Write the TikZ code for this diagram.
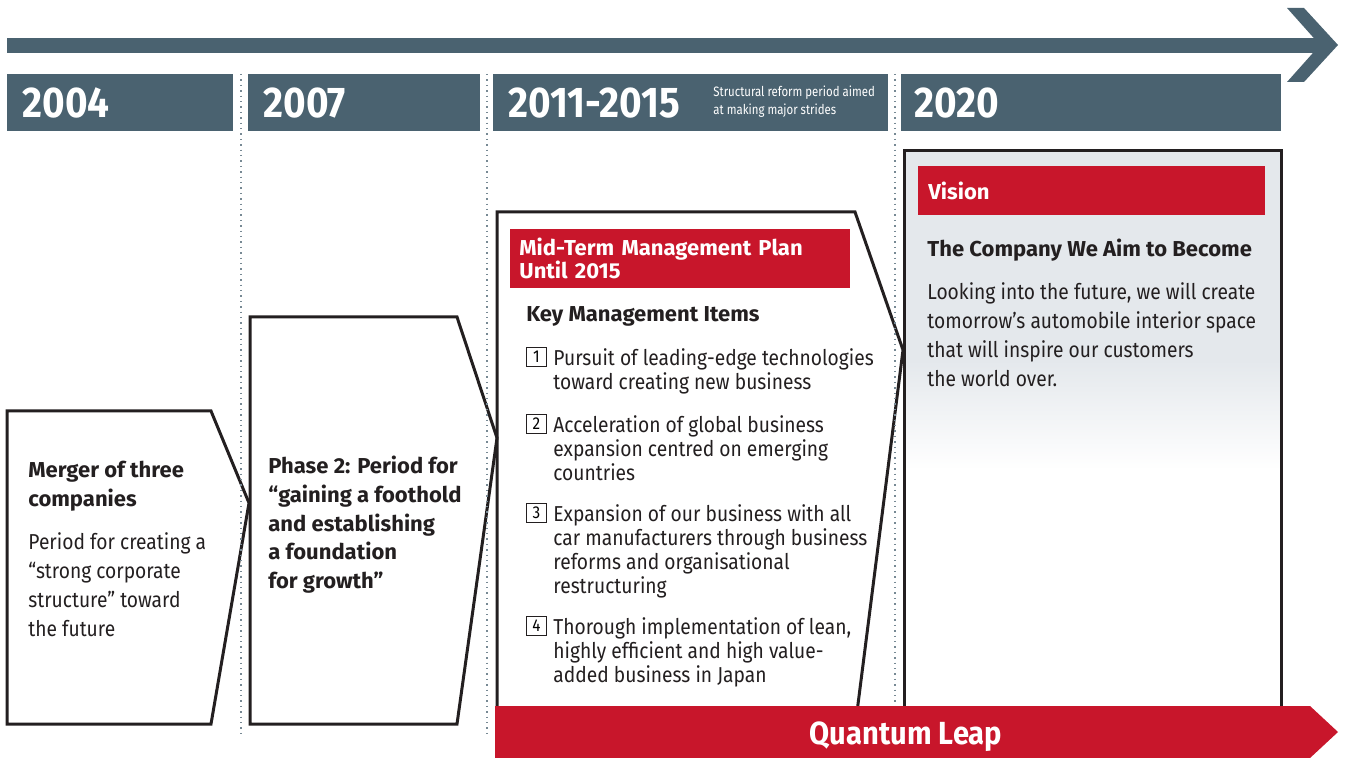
\documentclass[tikz,border=0pt]{standalone}
\usepackage{fontspec}
\setmainfont{Fira Sans}[UprightFeatures={FakeStretch=0.89},BoldFeatures={FakeStretch=1.02}]
\newfontfamily\yearfamily{Fira Sans}[FakeStretch=0.9]
\newfontfamily\notefamily{Fira Sans}[FakeStretch=0.84]
\newfontfamily\leapfamily{Fira Sans}[FakeStretch=0.91]
\usetikzlibrary{positioning}

\definecolor{slate}{RGB}{74,98,112}
\definecolor{leapred}{RGB}{200,22,43}
\definecolor{mist}{RGB}{228,232,236}
\definecolor{ink}{RGB}{35,31,32}

% fonts (1px of the layout = 0.5pt)
\newcommand{\yearfont}{\yearfamily\bfseries\fontsize{21.5}{21.5}\selectfont}
\newcommand{\notefont}{\notefamily\fontsize{6.8}{9}\selectfont}
\newcommand{\headfont}{\bfseries\fontsize{10.8}{14.3}\selectfont}
\newcommand{\bodyfont}{\fontsize{10.8}{14.6}\selectfont}
\newcommand{\itemfont}{\fontsize{10.8}{12}\selectfont}
\newcommand{\barfont}{\bfseries\fontsize{10.8}{11.5}\selectfont}

\begin{document}
\begin{tikzpicture}[x=0.5pt,y=-0.5pt,
  year/.style={anchor=west,inner sep=0pt,text=white,font=\yearfont},
  stage/.style={draw=ink,line width=1.5pt,line join=miter},
  sep/.style={draw=slate!75,dotted,line width=0.7pt},
  txt/.style={anchor=north west,inner sep=0pt,align=left,text=ink},
  redbar/.style={anchor=north west,fill=leapred,text=white,align=left,
    inner ysep=0pt,font=\barfont},
  numbox/.style={draw=ink,line width=0.5pt,minimum size=9.8pt,inner sep=0pt,
    font=\fontsize{8.6}{8.6}\selectfont}]
\useasboundingbox (0,0) rectangle (1347,758);

% timeline arrow
\fill[slate] (7,38) rectangle (1320,53);
\fill[slate] (1287,8) -- (1304,8) -- (1338,45) -- (1304,82) -- (1287,82) -- (1320,45) -- cycle;

% year bars
\fill[slate] (7,74) rectangle (233,131);
\fill[slate] (248,74) rectangle (480,131);
\fill[slate] (493,74) rectangle (888,131);
\fill[slate] (901,74) rectangle (1281,131);
\node[year] (y2004) at (22,103) {2004};
\node[year] (y2007) at (263,103) {2007};
\node[year] (y2011) at (508,103) {2011-2015};
\node[year,font=\notefont,align=left] (reform) at (713,102) {Structural reform period aimed\\at making major strides};
\node[year] (y2020) at (914,103) {2020};

% vision box with fading background
\fill[mist] (904,151) rectangle (1281,360);
\shade[top color=mist,bottom color=white] (904,360) rectangle (1281,470);
\draw[stage] (904,151) rectangle (1281,712);

% stage shapes
\draw[stage] (7,411) -- (211,411) -- (249,503) -- (211,724) -- (7,724) -- cycle;
\draw[stage] (250,317) -- (457,317) -- (497,438) -- (457,724) -- (250,724) -- cycle;
\draw[stage] (497,712) -- (497,212) -- (855,212) -- (903,350) -- (857,712);

% dotted separators
\draw[sep] (241,74) -- (241,734);
\draw[sep] (487,74) -- (487,734);
\draw[sep] (895,74) -- (895,706);

% quantum leap arrow
\fill[leapred] (495,706) -- (1310,706) -- (1338,732) -- (1310,758) -- (495,758) -- cycle;
\node[anchor=base,inner sep=0pt,text=white,font=\leapfamily\bfseries\fontsize{16}{16}\selectfont] (leap) at (906,744) {Quantum Leap};

% 2004
\node[txt,font=\headfont] (merger) at (28,461) {Merger of three\\companies};
\node[txt,font=\bodyfont] (merger-note) at (28,532) {Period for creating a\\“strong corporate\\structure” toward\\the future};

% 2007
\node[txt,font=\headfont] (phase2) at (268,456) {Phase 2: Period for\\“gaining a foothold\\and establishing\\a foundation\\for growth”};

% 2011-2015
\node[redbar,minimum width=170pt,minimum height=29.5pt,inner xsep=4.5pt,text width=161pt] (plan) at (510,229) {Mid-Term Management Plan\\Until 2015};
\node[txt,font=\headfont] (items) at (526,306) {Key Management Items};
\node[numbox] (n1) at (536.5,357) {1};
\node[txt,font=\itemfont] (item1) at (553,348) {Pursuit of leading-edge technologies\\toward creating new business};
\node[numbox] (n2) at (536.5,424) {2};
\node[txt,font=\itemfont] (item2) at (553,415) {Acceleration of global business\\expansion centred on emerging\\countries};
\node[numbox] (n3) at (536.5,513) {3};
\node[txt,font=\itemfont] (item3) at (553,504) {Expansion of our business with all\\car manufacturers through business\\reforms and organisational\\restructuring};
\node[numbox] (n4) at (536.5,626) {4};
\node[txt,font=\itemfont] (item4) at (553,617) {Thorough implementation of lean,\\highly efficient and high value-\\added business in Japan};

% 2020
\node[redbar,minimum width=173.5pt,minimum height=24.5pt,inner xsep=5pt,text width=163.5pt] (vision) at (918,166) {Vision};
\node[txt,font=\headfont] (aim) at (927,239) {The Company We Aim to Become};
\node[txt,font=\bodyfont] (aim-note) at (927,282) {Looking into the future, we will create\\tomorrow’s automobile interior space\\that will inspire our customers\\the world over.};
\end{tikzpicture}
\end{document}
